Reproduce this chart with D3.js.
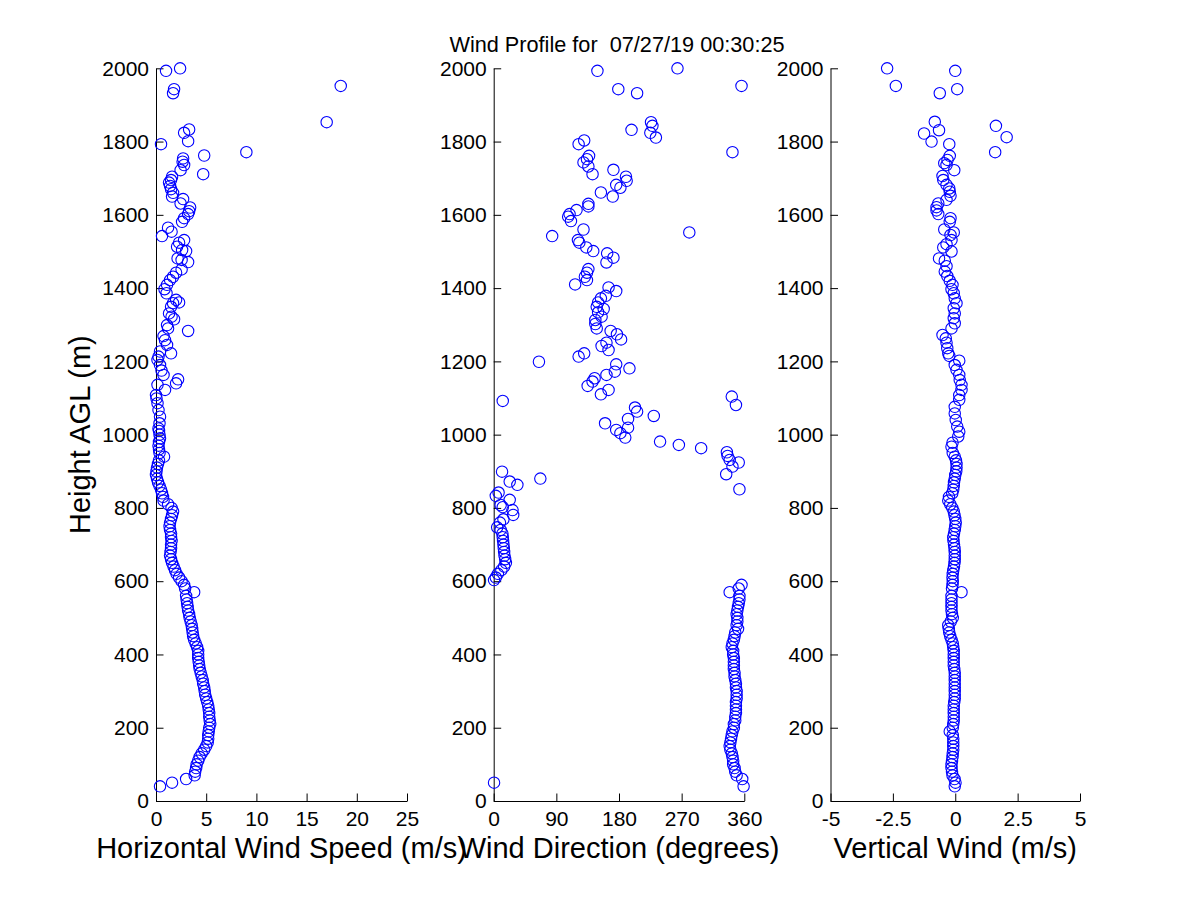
<!DOCTYPE html>
<html>
<head>
<meta charset="utf-8">
<script src="https://cdn.jsdelivr.net/npm/d3@7"></script>
<style>
  body { margin: 0; background: #fff; }
  svg { display: block; }
</style>
</head>
<body>
<div id="chart"></div>
<script>
// [height AGL (m), value]
const speedPoints = [
  [2000,2.4],[1993,1.0],[1952,18.4],[1943,1.8],[1932,1.7],[1853,17.0],[1833,3.3],[1824,2.8],
  [1801,3.2],[1793,0.5],[1771,9.0],[1762,4.8],[1754,2.7],[1745,2.65],[1736,2.8],[1722,2.45],
  [1711,4.7],[1704,1.6],[1695,1.5],[1688,1.3],[1679,1.4],[1670,1.5],[1660,1.7],[1650,1.6],
  [1643,2.7],[1631,2.45],[1620,3.4],[1610,3.3],[1602,3.2],[1591,2.8],[1581,2.6],[1565,1.2],
  [1554,1.55],[1542,0.6],[1531,2.8],[1524,2.3],[1513,2.1],[1504,2.6],[1501,3.0],[1481,2.15],
  [1477,2.55],[1471,3.2],[1451,2.55],[1442,2.0],[1431,1.7],[1422,1.4],[1409,1.1],[1397,0.85],
  [1386,1.05],[1368,2.0],[1361,2.3],[1359,1.7],[1349,1.5],[1331,1.3],[1322,1.55],[1315,1.8],
  [1299,1.1],[1290,1.2],[1283,3.2],[1269,0.75],[1258,0.9],[1245,1.1],[1227,0.4],[1222,1.5],
  [1213,0.25],[1204,0.15],[1190,0.4],[1175,0.55],[1163,0.75],[1151,2.2],[1140,2.0],[1136,0.15],
  [1122,0.9],[1108,0.0],[1099,0.05],[1086,0.15],[1067,0.25],[1049,0.4],[1031,0.35],[1017,0.25],
  [1010,0.3],[1000,0.35],[990,0.4],[980,0.3],[970,0.25],[960,0.3],[950,0.35],[940,0.8],
  [930,0.3],[920,0.2],[910,0.1],[900,0.05],[890,0.0],[880,0.1],[870,0.2],[860,0.35],
  [850,0.5],[840,0.6],[830,0.7],[820,0.75],[810,1.2],[800,1.55],[790,1.7],[780,1.6],
  [770,1.5],[760,1.4],[750,1.35],[740,1.4],[730,1.5],[720,1.5],[710,1.55],[700,1.5],
  [690,1.5],[680,1.45],[670,1.4],[660,1.5],[650,1.6],[640,1.75],[630,1.9],[620,2.05],
  [610,2.3],[600,2.55],[590,2.8],[580,2.9],[570,3.8],[560,3.0],[550,3.05],[540,3.1],
  [530,3.15],[520,3.2],[510,3.3],[500,3.35],[490,3.45],[480,3.55],[470,3.6],[460,3.65],
  [450,3.7],[440,3.8],[430,3.95],[420,4.1],[410,4.2],[400,4.2],[390,4.2],[380,4.25],
  [370,4.3],[360,4.35],[350,4.45],[340,4.55],[330,4.65],[320,4.7],[310,4.8],[300,4.85],
  [290,4.9],[280,5.0],[270,5.1],[260,5.2],[250,5.25],[240,5.3],[230,5.3],[220,5.35],
  [210,5.4],[200,5.3],[190,5.25],[180,5.2],[170,5.2],[160,5.15],[150,5.0],[140,4.8],
  [130,4.55],[120,4.35],[110,4.2],[100,4.05],[90,4.0],[80,3.9],[70,3.85],[60,3.0],
  [50,1.6],[40,0.4]
];

const dirPoints = [
  [1993,149],[2000,264],[1952,356],[1943,179],[1932,206],[1853,226],[1843,228],[1824,225],
  [1811,233],[1832,198],[1771,343],[1793,122],[1803,130],[1761,137],[1752,134],[1743,129],
  [1732,136],[1711,142],[1723,172],[1704,190],[1693,191],[1682,176],[1674,182],[1650,171],
  [1661,154],[1630,136],[1623,136],[1613,119],[1602,109],[1595,107],[1583,111],[1560,129],
  [1542,84],[1531,121],[1524,123],[1511,133],[1501,143],[1495,163],[1483,172],[1470,162],
  [1552,281],[1452,136],[1442,134],[1431,131],[1422,134],[1410,117],[1402,165],[1392,176],
  [1379,161],[1372,154],[1361,150],[1349,148],[1343,158],[1334,150],[1322,155],[1313,146],
  [1302,146],[1290,148],[1283,168],[1274,177],[1260,183],[1251,162],[1242,155],[1231,165],
  [1222,130],[1213,122],[1199,65],[1192,176],[1181,195],[1172,174],[1163,162],[1154,145],
  [1145,142],[1133,135],[1122,165],[1110,154],[1104,342],[1092,13],[1081,348],[1074,203],
  [1063,206],[1051,230],[1043,193],[1031,160],[1019,193],[1013,176],[1004,182],[992,189],
  [981,239],[972,266],[963,298],[952,335],[942,336],[931,339],[924,352],[913,343],
  [899,12],[892,334],[880,67],[872,23],[863,34],[851,353],[842,7],[833,3],[822,23],
  [808,10],[802,13],[794,27],[781,28],[769,14],[760,9],[747,5],[740,10],[730,12.5],
  [720,13],[710,13.5],[700,14],[690,14.5],[680,15],[670,15.5],[660,16.5],[650,17.5],
  [640,15],[630,11],[620,6],[610,3],[603,0.5],
  [590,356],[580,352],[570,339],[560,353],[550,353],[540,352],[530,351],[520,350],
  [510,349],[500,350],[490,350],[480,349],[470,351],[460,347],[450,346],[440,345],
  [430,343],[420,342],[410,344],[400,344],[390,345],[380,345],[370,345],[360,345],
  [350,346],[340,346],[330,347],[320,348],[310,348],[300,349],[290,349],[280,349],
  [270,348],[260,348],[250,348],[240,348],[230,347],[220,347],[210,345],[200,345],
  [190,343],[180,342],[170,341],[160,340],[150,339],[140,340],[130,342],[120,343],
  [110,344],[100,344],[90,346],[80,347],[70,349],[60,357],[50,0.5],[40,359]
];

const vertPoints = [
  [2000,-2.73],[1993,0.0],[1952,-2.38],[1943,0.08],[1932,-0.62],[1854,-0.82],[1843,1.63],
  [1831,-0.65],[1822,-1.25],[1812,2.06],[1800,-0.95],[1793,-0.24],[1771,1.6],[1761,-0.22],
  [1750,-0.31],[1741,-0.44],[1736,-0.35],[1722,-0.04],[1706,-0.51],[1695,-0.48],[1682,-0.35],
  [1672,-0.24],[1663,-0.22],[1652,-0.19],[1641,-0.35],[1631,-0.68],[1621,-0.75],[1612,-0.75],
  [1602,-0.68],[1591,-0.19],[1581,-0.22],[1560,-0.44],[1552,-0.06],[1545,-0.19],[1531,-0.15],
  [1520,-0.35],[1511,-0.48],[1500,-0.15],[1481,-0.65],[1475,-0.42],[1460,-0.35],[1445,-0.42],
  [1433,-0.32],[1420,-0.22],[1409,-0.11],[1397,-0.15],[1386,-0.06],[1372,-0.02],[1359,0.05],
  [1345,-0.06],[1331,-0.02],[1318,-0.06],[1304,-0.02],[1290,-0.15],[1272,-0.51],[1263,-0.38],
  [1251,-0.35],[1236,-0.32],[1222,-0.28],[1215,-0.24],[1202,0.16],[1190,-0.02],[1177,0.05],
  [1163,0.16],[1149,0.18],[1136,0.25],[1122,0.25],[1108,0.16],[1095,0.16],[1076,-0.02],
  [1058,-0.02],[1040,0.02],[1022,0.08],[1008,0.16],[995,0.12],[978,-0.11],[967,-0.15],
  [950,-0.1],[940,-0.02],[930,0.03],[920,0.05],[910,0.05],[900,0.04],[890,0.0],[880,-0.02],
  [870,-0.05],[860,-0.06],[850,-0.08],[840,-0.12],[830,-0.25],[820,-0.28],[810,-0.2],[800,-0.12],
  [790,-0.06],[780,-0.03],[770,0.0],[760,0.02],[750,0.0],[740,-0.02],[730,-0.05],[720,-0.08],
  [710,-0.07],[700,-0.05],[690,-0.03],[680,-0.02],[670,-0.02],[660,-0.02],[650,-0.03],[640,-0.05],
  [630,-0.08],[620,-0.1],[610,-0.11],[600,-0.1],[590,-0.11],[580,-0.13],[570,0.25],[560,-0.15],
  [550,-0.15],[540,-0.15],[530,-0.15],[520,-0.15],[510,-0.13],[500,-0.1],[490,-0.18],[480,-0.28],
  [470,-0.26],[460,-0.24],[450,-0.2],[440,-0.15],[430,-0.1],[420,-0.08],[410,-0.06],[400,-0.06],
  [390,-0.06],[380,-0.06],[370,-0.06],[360,-0.04],[350,-0.02],[340,-0.02],[330,-0.02],[320,-0.02],
  [310,-0.02],[300,-0.02],[290,-0.02],[280,-0.02],[270,-0.04],[260,-0.06],[250,-0.06],[240,-0.06],
  [230,-0.06],[220,-0.06],[210,-0.08],[200,-0.1],[190,-0.22],[180,-0.1],[170,-0.08],[160,-0.08],
  [150,-0.08],[140,-0.08],[130,-0.1],[120,-0.11],[110,-0.13],[100,-0.15],[90,-0.15],[80,-0.13],
  [70,-0.11],[60,-0.03],[50,0.01],[40,-0.02]
];

const heightTicks = [0, 200, 400, 600, 800, 1000, 1200, 1400, 1600, 1800, 2000];
const speedTicks = [0, 5, 10, 15, 20, 25];
const dirTicks = [0, 90, 180, 270, 360];
const vertTicks = [-5, -2.5, 0, 2.5, 5];

const titleText = "Wind Profile for  07/27/19 00:30:25";
const yLabel = "Height AGL (m)";

const font = "'Liberation Sans', Arial, Helvetica, sans-serif";
const W = 1200, H = 900;
const yTop = 68.3, yBottom = 801;

const panels = [
  { data: speedPoints, domain: [0, 25], range: [156, 407], ticks: speedTicks, label: "Horizontal Wind Speed (m/s)" },
  { data: dirPoints, domain: [0, 360], range: [493.7, 744.3], ticks: dirTicks, label: "Wind Direction (degrees)" },
  { data: vertPoints, domain: [-5, 5], range: [830.5, 1080], ticks: vertTicks, label: "Vertical Wind (m/s)" }
];

const svg = d3.select("#chart").append("svg").attr("width", W).attr("height", H);
svg.append("rect").attr("width", W).attr("height", H).attr("fill", "#fff");

const y = d3.scaleLinear().domain([0, 2000]).range([yBottom, yTop]);

panels.forEach(p => {
  const x = d3.scaleLinear().domain(p.domain).range(p.range);
  const g = svg.append("g");

  g.append("g")
    .attr("transform", `translate(0,${yBottom})`)
    .call(d3.axisBottom(x).tickValues(p.ticks).tickSizeInner(-7.5).tickSizeOuter(0)
      .tickPadding(10.5).tickFormat(d => String(d)))
    .call(a => a.attr("font-family", font).attr("font-size", 21));

  g.append("g")
    .attr("transform", `translate(${p.range[0]},0)`)
    .call(d3.axisLeft(y).tickValues(heightTicks).tickSizeInner(-7.5).tickSizeOuter(0)
      .tickPadding(7).tickFormat(d => String(d)))
    .call(a => a.attr("font-family", font).attr("font-size", 21));

  g.selectAll(".domain, .tick line").attr("stroke", "#000");
  g.selectAll(".tick text").attr("fill", "#000");

  g.append("g").selectAll("circle")
    .data(p.data)
    .join("circle")
    .attr("cx", d => x(d[1]))
    .attr("cy", d => y(d[0]))
    .attr("r", 5.7)
    .attr("fill", "none")
    .attr("stroke", "#0000ff")
    .attr("stroke-width", 1.1);

  svg.append("text")
    .attr("x", (p.range[0] + p.range[1]) / 2)
    .attr("y", 858)
    .attr("text-anchor", "middle")
    .attr("font-family", font)
    .attr("font-size", 29)
    .text(p.label);
});

svg.append("text")
  .attr("transform", `translate(90,${(yTop + yBottom) / 2}) rotate(-90)`)
  .attr("text-anchor", "middle")
  .attr("font-family", font)
  .attr("font-size", 29)
  .text(yLabel);

svg.append("text")
  .attr("x", 617)
  .attr("y", 51.7)
  .attr("text-anchor", "middle")
  .attr("font-family", font)
  .attr("font-size", 21.7)
  .style("white-space", "pre")
  .text(titleText);
</script>
</body>
</html>
